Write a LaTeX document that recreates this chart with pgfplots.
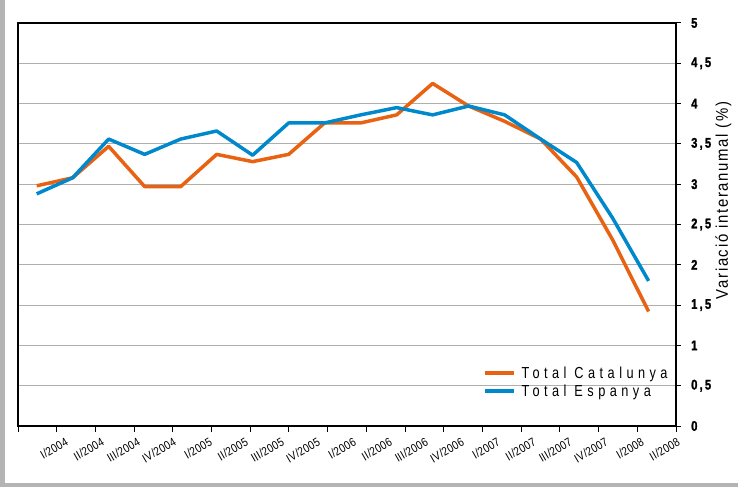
\documentclass[border=0pt]{standalone}
\usepackage{fontspec}
\setmainfont{Liberation Sans}
\newfontfamily\xtickfont{Liberation Sans}[FakeStretch=0.85, LetterSpace=2]
\newfontfamily\ytickfont{Liberation Sans Bold}[FakeStretch=0.8, LetterSpace=16, FakeBold=1.5]
\newfontfamily\legfont{Liberation Sans}[FakeStretch=0.8, LetterSpace=28]
\newfontfamily\ylabfont{Liberation Sans}[FakeStretch=0.88, LetterSpace=10]
\usepackage{pgfplots}
\pgfplotsset{compat=1.18}
\definecolor{catcol}{RGB}{232,98,18}
\definecolor{espcol}{RGB}{0,136,204}
\definecolor{framegray}{RGB}{180,180,180}
\definecolor{gridgray}{RGB}{175,175,175}
\begin{document}
\begin{tikzpicture}
\path[use as bounding box] (-18bp,-61bp) rectangle (720bp,426bp);
\fill[white] (-18bp,-61bp) rectangle (720bp,426bp);
\fill[framegray] (-18bp,-61bp) rectangle (-13bp,426bp);
\fill[framegray] (-18bp,-61bp) rectangle (720bp,-57bp);
\begin{axis}[
  at={(0,0)}, anchor=south west,
  scale only axis, width=658bp, height=403bp,
  xmin=-0.519, xmax=17.761,
  ymin=0, ymax=5,
  axis line style={line width=1.5pt, black},
  tick align=outside,
  xtick pos=bottom, ytick pos=right,
  yticklabel pos=right,
  xtick={0,1,...,17},
  xticklabels={I/2004,II/2004,III/2004,IV/2004,I/2005,II/2005,III/2005,IV/2005,I/2006,II/2006,III/2006,IV/2006,I/2007,II/2007,III/2007,IV/2007,I/2008,II/2008},
  minor xtick={-0.519,0.556,1.632,2.707,3.782,4.858,5.933,7.008,8.083,9.159,10.234,11.309,12.385,13.460,14.535,15.611,16.686,17.761},
  major x tick style={draw=none},
  minor x tick style={black, line width=1pt},
  minor tick length=6bp,
  major tick length=5bp,
  ytick={0,0.5,...,5},
  ytick style={black, line width=1pt},
  ymajorgrids,
  major grid style={gridgray, line width=0.9pt},
  /pgf/number format/assume math mode=true,
  /pgf/number format/use comma,
  xticklabel style={font=\xtickfont\fontsize{12}{14}\selectfont, xshift=28bp, yshift=-6bp, rotate=30, anchor=north east, inner sep=0pt},
  yticklabel style={font=\ytickfont\fontsize{14}{16}\selectfont, anchor=west, inner sep=0pt, xshift=10bp},
  ylabel={Variació interanumal (\%)},
  ylabel style={font=\ylabfont\fontsize{17}{20}\selectfont, at={(axis description cs:1.072,0.56)}, anchor=center},
  legend style={draw=none, fill=none, at={(axis description cs:0.7067,0.153)}, anchor=north west,
    font=\legfont\fontsize{16}{18}\selectfont, row sep=1bp, inner sep=0pt,
    /tikz/every odd column/.append style={column sep=4bp}},
  legend cell align=left,
  legend image code/.code={\draw[#1, line width=3.5pt] (0bp,0bp) -- (29bp,0bp);},
  every axis plot/.append style={line width=3.5pt},
]
\addplot[catcol, line join=round] coordinates {
(0,2.98) (1,3.08) (2,3.47) (3,2.97) (4,2.97) (5,3.37) (6,3.28) (7,3.37) (8,3.76)
(9,3.76) (10,3.86) (11,4.25) (12,3.97) (13,3.78) (14,3.56) (15,3.09) (16,2.31) (17,1.42)};
\addlegendentry{Total Catalunya}
\addplot[espcol, line join=round] coordinates {
(0,2.88) (1,3.08) (2,3.56) (3,3.37) (4,3.56) (5,3.66) (6,3.36) (7,3.76) (8,3.76)
(9,3.86) (10,3.95) (11,3.86) (12,3.97) (13,3.86) (14,3.56) (15,3.27) (16,2.58) (17,1.80)};
\addlegendentry{Total Espanya}
\end{axis}
\end{tikzpicture}
\end{document}
